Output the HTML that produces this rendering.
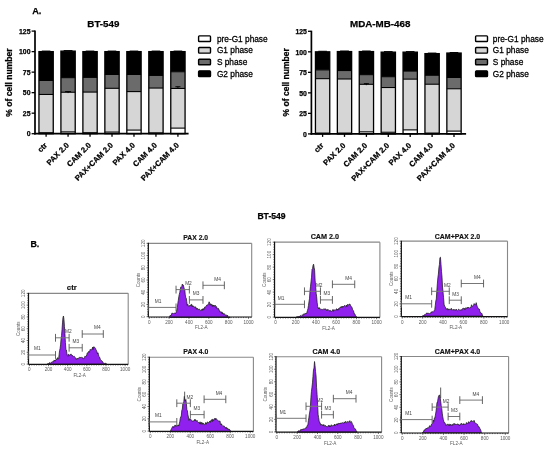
<!DOCTYPE html>
<html><head><meta charset="utf-8"><title>Figure</title>
<style>
html,body{margin:0;padding:0;background:#fff;}
body{width:550px;height:449px;overflow:hidden;font-family:"Liberation Sans", sans-serif;}
svg{display:block;filter:blur(0.3px);}
</style></head><body>
<svg width="550" height="449" viewBox="0 0 550 449" font-family='"Liberation Sans", sans-serif'>
<text x="103.4" y="26.9" font-size="9.8" font-weight="bold" text-anchor="middle" fill="#000" stroke="#000" stroke-width="0.25">BT-549</text>
<rect x="38.95" y="51.62" width="14.3" height="28.81" fill="#000" stroke="none" stroke-width="1"/>
<rect x="38.95" y="80.43" width="14.3" height="14.04" fill="#6b6b6b" stroke="none" stroke-width="1"/>
<rect x="38.95" y="94.47" width="14.3" height="38.25" fill="#d6d6d6" stroke="none" stroke-width="1"/>
<rect x="38.95" y="132.72" width="14.3" height="0.98" fill="#fff" stroke="none" stroke-width="1"/>
<line x1="38.95" y1="80.43" x2="53.25" y2="80.43" stroke="#000" stroke-width="1.1"/>
<line x1="38.95" y1="94.47" x2="53.25" y2="94.47" stroke="#000" stroke-width="1.1"/>
<line x1="38.95" y1="132.72" x2="53.25" y2="132.72" stroke="#000" stroke-width="1.1"/>
<rect x="38.95" y="51.62" width="14.3" height="82.08" fill="none" stroke="#000" stroke-width="1.3"/>
<line x1="41.8" y1="51.07" x2="50.4" y2="51.07" stroke="#000" stroke-width="1"/>
<line x1="46.1" y1="133.7" x2="46.1" y2="136.7" stroke="#000" stroke-width="1.3"/>
<rect x="60.92" y="51.13" width="14.3" height="26.51" fill="#000" stroke="none" stroke-width="1"/>
<rect x="60.92" y="77.64" width="14.3" height="14.61" fill="#6b6b6b" stroke="none" stroke-width="1"/>
<rect x="60.92" y="92.25" width="14.3" height="39.64" fill="#d6d6d6" stroke="none" stroke-width="1"/>
<rect x="60.92" y="131.89" width="14.3" height="1.81" fill="#fff" stroke="none" stroke-width="1"/>
<line x1="60.92" y1="77.64" x2="75.22" y2="77.64" stroke="#000" stroke-width="1.1"/>
<line x1="60.92" y1="92.25" x2="75.22" y2="92.25" stroke="#000" stroke-width="1.1"/>
<line x1="60.92" y1="131.89" x2="75.22" y2="131.89" stroke="#000" stroke-width="1.1"/>
<rect x="60.92" y="51.13" width="14.3" height="82.57" fill="none" stroke="#000" stroke-width="1.3"/>
<line x1="63.67" y1="50.58" x2="72.47" y2="50.58" stroke="#000" stroke-width="1"/>
<line x1="65.07" y1="91.59" x2="71.07" y2="91.59" stroke="#000" stroke-width="1"/>
<line x1="68.07" y1="91.59" x2="68.07" y2="93.09" stroke="#000" stroke-width="0.9"/>
<line x1="68.07" y1="133.7" x2="68.07" y2="136.7" stroke="#000" stroke-width="1.3"/>
<rect x="82.89" y="51.62" width="14.3" height="25.77" fill="#000" stroke="none" stroke-width="1"/>
<rect x="82.89" y="77.39" width="14.3" height="14.69" fill="#6b6b6b" stroke="none" stroke-width="1"/>
<rect x="82.89" y="92.09" width="14.3" height="40.63" fill="#d6d6d6" stroke="none" stroke-width="1"/>
<rect x="82.89" y="132.72" width="14.3" height="0.98" fill="#fff" stroke="none" stroke-width="1"/>
<line x1="82.89" y1="77.39" x2="97.19" y2="77.39" stroke="#000" stroke-width="1.1"/>
<line x1="82.89" y1="92.09" x2="97.19" y2="92.09" stroke="#000" stroke-width="1.1"/>
<line x1="82.89" y1="132.72" x2="97.19" y2="132.72" stroke="#000" stroke-width="1.1"/>
<rect x="82.89" y="51.62" width="14.3" height="82.08" fill="none" stroke="#000" stroke-width="1.3"/>
<line x1="85.74" y1="51.07" x2="94.34" y2="51.07" stroke="#000" stroke-width="1"/>
<line x1="90.04" y1="133.7" x2="90.04" y2="136.7" stroke="#000" stroke-width="1.3"/>
<rect x="104.86" y="51.62" width="14.3" height="22.82" fill="#000" stroke="none" stroke-width="1"/>
<rect x="104.86" y="74.44" width="14.3" height="13.87" fill="#6b6b6b" stroke="none" stroke-width="1"/>
<rect x="104.86" y="88.31" width="14.3" height="43.75" fill="#d6d6d6" stroke="none" stroke-width="1"/>
<rect x="104.86" y="132.06" width="14.3" height="1.64" fill="#fff" stroke="none" stroke-width="1"/>
<line x1="104.86" y1="74.44" x2="119.16" y2="74.44" stroke="#000" stroke-width="1.1"/>
<line x1="104.86" y1="88.31" x2="119.16" y2="88.31" stroke="#000" stroke-width="1.1"/>
<line x1="104.86" y1="132.06" x2="119.16" y2="132.06" stroke="#000" stroke-width="1.1"/>
<rect x="104.86" y="51.62" width="14.3" height="82.08" fill="none" stroke="#000" stroke-width="1.3"/>
<line x1="107.71" y1="51.07" x2="116.31" y2="51.07" stroke="#000" stroke-width="1"/>
<line x1="112.01" y1="133.7" x2="112.01" y2="136.7" stroke="#000" stroke-width="1.3"/>
<rect x="126.83" y="51.62" width="14.3" height="22.82" fill="#000" stroke="none" stroke-width="1"/>
<rect x="126.83" y="74.44" width="14.3" height="17.15" fill="#6b6b6b" stroke="none" stroke-width="1"/>
<rect x="126.83" y="91.59" width="14.3" height="38.5" fill="#d6d6d6" stroke="none" stroke-width="1"/>
<rect x="126.83" y="130.09" width="14.3" height="3.61" fill="#fff" stroke="none" stroke-width="1"/>
<line x1="126.83" y1="74.44" x2="141.13" y2="74.44" stroke="#000" stroke-width="1.1"/>
<line x1="126.83" y1="91.59" x2="141.13" y2="91.59" stroke="#000" stroke-width="1.1"/>
<line x1="126.83" y1="130.09" x2="141.13" y2="130.09" stroke="#000" stroke-width="1.1"/>
<rect x="126.83" y="51.62" width="14.3" height="82.08" fill="none" stroke="#000" stroke-width="1.3"/>
<line x1="129.68" y1="51.07" x2="138.28" y2="51.07" stroke="#000" stroke-width="1"/>
<line x1="133.98" y1="133.7" x2="133.98" y2="136.7" stroke="#000" stroke-width="1.3"/>
<rect x="148.8" y="51.62" width="14.3" height="23.8" fill="#000" stroke="none" stroke-width="1"/>
<rect x="148.8" y="75.42" width="14.3" height="12.64" fill="#6b6b6b" stroke="none" stroke-width="1"/>
<rect x="148.8" y="88.06" width="14.3" height="44.82" fill="#d6d6d6" stroke="none" stroke-width="1"/>
<rect x="148.8" y="132.88" width="14.3" height="0.82" fill="#fff" stroke="none" stroke-width="1"/>
<line x1="148.8" y1="75.42" x2="163.1" y2="75.42" stroke="#000" stroke-width="1.1"/>
<line x1="148.8" y1="88.06" x2="163.1" y2="88.06" stroke="#000" stroke-width="1.1"/>
<line x1="148.8" y1="132.88" x2="163.1" y2="132.88" stroke="#000" stroke-width="1.1"/>
<rect x="148.8" y="51.62" width="14.3" height="82.08" fill="none" stroke="#000" stroke-width="1.3"/>
<line x1="151.65" y1="51.07" x2="160.25" y2="51.07" stroke="#000" stroke-width="1"/>
<line x1="155.95" y1="133.7" x2="155.95" y2="136.7" stroke="#000" stroke-width="1.3"/>
<rect x="170.77" y="51.62" width="14.3" height="20.11" fill="#000" stroke="none" stroke-width="1"/>
<rect x="170.77" y="71.73" width="14.3" height="16.74" fill="#6b6b6b" stroke="none" stroke-width="1"/>
<rect x="170.77" y="88.47" width="14.3" height="39.64" fill="#d6d6d6" stroke="none" stroke-width="1"/>
<rect x="170.77" y="128.12" width="14.3" height="5.58" fill="#fff" stroke="none" stroke-width="1"/>
<line x1="170.77" y1="71.73" x2="185.07" y2="71.73" stroke="#000" stroke-width="1.1"/>
<line x1="170.77" y1="88.47" x2="185.07" y2="88.47" stroke="#000" stroke-width="1.1"/>
<line x1="170.77" y1="128.12" x2="185.07" y2="128.12" stroke="#000" stroke-width="1.1"/>
<rect x="170.77" y="51.62" width="14.3" height="82.08" fill="none" stroke="#000" stroke-width="1.3"/>
<line x1="173.62" y1="51.07" x2="182.22" y2="51.07" stroke="#000" stroke-width="1"/>
<line x1="175.42" y1="86.75" x2="180.42" y2="86.75" stroke="#000" stroke-width="1"/>
<line x1="177.92" y1="86.75" x2="177.92" y2="88.25" stroke="#000" stroke-width="0.9"/>
<line x1="177.92" y1="133.7" x2="177.92" y2="136.7" stroke="#000" stroke-width="1.3"/>
<line x1="35" y1="30.5" x2="35" y2="134.5" stroke="#000" stroke-width="1.7"/>
<line x1="34.2" y1="133.7" x2="188.6" y2="133.7" stroke="#000" stroke-width="1.7"/>
<line x1="31.6" y1="133.7" x2="35" y2="133.7" stroke="#000" stroke-width="1.3"/>
<text x="30.5" y="136.4" font-size="6.9" font-weight="bold" text-anchor="end" fill="#000" stroke="#000" stroke-width="0.25">0</text>
<line x1="31.6" y1="113.18" x2="35" y2="113.18" stroke="#000" stroke-width="1.3"/>
<text x="30.5" y="115.88" font-size="6.9" font-weight="bold" text-anchor="end" fill="#000" stroke="#000" stroke-width="0.25">25</text>
<line x1="31.6" y1="92.66" x2="35" y2="92.66" stroke="#000" stroke-width="1.3"/>
<text x="30.5" y="95.36" font-size="6.9" font-weight="bold" text-anchor="end" fill="#000" stroke="#000" stroke-width="0.25">50</text>
<line x1="31.6" y1="72.14" x2="35" y2="72.14" stroke="#000" stroke-width="1.3"/>
<text x="30.5" y="74.84" font-size="6.9" font-weight="bold" text-anchor="end" fill="#000" stroke="#000" stroke-width="0.25">75</text>
<line x1="31.6" y1="51.62" x2="35" y2="51.62" stroke="#000" stroke-width="1.3"/>
<text x="30.5" y="54.32" font-size="6.9" font-weight="bold" text-anchor="end" fill="#000" stroke="#000" stroke-width="0.25">100</text>
<line x1="31.6" y1="31.1" x2="35" y2="31.1" stroke="#000" stroke-width="1.3"/>
<text x="30.5" y="33.8" font-size="6.9" font-weight="bold" text-anchor="end" fill="#000" stroke="#000" stroke-width="0.25">125</text>
<text x="0" y="0" font-size="8.55" font-weight="bold" text-anchor="middle" fill="#000" transform="translate(12.1,82.6) rotate(-90)" stroke="#000" stroke-width="0.25">% of cell number</text>
<text x="0" y="0" font-size="7.7" font-weight="bold" text-anchor="end" fill="#000" transform="translate(47.6,145.8) rotate(-45)" stroke="#000" stroke-width="0.25">ctr</text>
<text x="0" y="0" font-size="7.7" font-weight="bold" text-anchor="end" fill="#000" transform="translate(69.57,145.8) rotate(-45)" stroke="#000" stroke-width="0.25">PAX 2.0</text>
<text x="0" y="0" font-size="7.7" font-weight="bold" text-anchor="end" fill="#000" transform="translate(91.54,145.8) rotate(-45)" stroke="#000" stroke-width="0.25">CAM 2.0</text>
<text x="0" y="0" font-size="7.7" font-weight="bold" text-anchor="end" fill="#000" transform="translate(113.51,145.8) rotate(-45)" stroke="#000" stroke-width="0.25">PAX+CAM 2.0</text>
<text x="0" y="0" font-size="7.7" font-weight="bold" text-anchor="end" fill="#000" transform="translate(135.48,145.8) rotate(-45)" stroke="#000" stroke-width="0.25">PAX 4.0</text>
<text x="0" y="0" font-size="7.7" font-weight="bold" text-anchor="end" fill="#000" transform="translate(157.45,145.8) rotate(-45)" stroke="#000" stroke-width="0.25">CAM 4.0</text>
<text x="0" y="0" font-size="7.7" font-weight="bold" text-anchor="end" fill="#000" transform="translate(179.42,145.8) rotate(-45)" stroke="#000" stroke-width="0.25">PAX+CAM 4.0</text>
<rect x="198.6" y="35.9" width="11.9" height="5.6" fill="#fff" stroke="#000" stroke-width="1.4" rx="0.8"/>
<text x="216.9" y="41.8" font-size="8.3" font-weight="normal" text-anchor="start" fill="#000" stroke="#000" stroke-width="0.28">pre-G1 phase</text>
<rect x="198.6" y="47.55" width="11.9" height="5.6" fill="#d6d6d6" stroke="#000" stroke-width="1.4" rx="0.8"/>
<text x="216.9" y="53.45" font-size="8.3" font-weight="normal" text-anchor="start" fill="#000" stroke="#000" stroke-width="0.28">G1 phase</text>
<rect x="198.6" y="59.2" width="11.9" height="5.6" fill="#6b6b6b" stroke="#000" stroke-width="1.4" rx="0.8"/>
<text x="216.9" y="65.1" font-size="8.3" font-weight="normal" text-anchor="start" fill="#000" stroke="#000" stroke-width="0.28">S phase</text>
<rect x="198.6" y="70.85" width="11.9" height="5.6" fill="#000" stroke="#000" stroke-width="1.4" rx="0.8"/>
<text x="216.9" y="76.75" font-size="8.3" font-weight="normal" text-anchor="start" fill="#000" stroke="#000" stroke-width="0.28">G2 phase</text>
<text x="380.2" y="26.7" font-size="9.8" font-weight="bold" text-anchor="middle" fill="#000" stroke="#000" stroke-width="0.25">MDA-MB-468</text>
<rect x="315.45" y="51.82" width="14.3" height="18.06" fill="#000" stroke="none" stroke-width="1"/>
<rect x="315.45" y="69.88" width="14.3" height="8.78" fill="#6b6b6b" stroke="none" stroke-width="1"/>
<rect x="315.45" y="78.66" width="14.3" height="54.42" fill="#d6d6d6" stroke="none" stroke-width="1"/>
<rect x="315.45" y="133.08" width="14.3" height="0.82" fill="#fff" stroke="none" stroke-width="1"/>
<line x1="315.45" y1="69.88" x2="329.75" y2="69.88" stroke="#000" stroke-width="1.1"/>
<line x1="315.45" y1="78.66" x2="329.75" y2="78.66" stroke="#000" stroke-width="1.1"/>
<line x1="315.45" y1="133.08" x2="329.75" y2="133.08" stroke="#000" stroke-width="1.1"/>
<rect x="315.45" y="51.82" width="14.3" height="82.08" fill="none" stroke="#000" stroke-width="1.3"/>
<line x1="318.3" y1="51.27" x2="326.9" y2="51.27" stroke="#000" stroke-width="1"/>
<line x1="322.6" y1="133.9" x2="322.6" y2="136.9" stroke="#000" stroke-width="1.3"/>
<rect x="337.35" y="51.57" width="14.3" height="18.96" fill="#000" stroke="none" stroke-width="1"/>
<rect x="337.35" y="70.53" width="14.3" height="8.45" fill="#6b6b6b" stroke="none" stroke-width="1"/>
<rect x="337.35" y="78.99" width="14.3" height="54.09" fill="#d6d6d6" stroke="none" stroke-width="1"/>
<rect x="337.35" y="133.08" width="14.3" height="0.82" fill="#fff" stroke="none" stroke-width="1"/>
<line x1="337.35" y1="70.53" x2="351.65" y2="70.53" stroke="#000" stroke-width="1.1"/>
<line x1="337.35" y1="78.99" x2="351.65" y2="78.99" stroke="#000" stroke-width="1.1"/>
<line x1="337.35" y1="133.08" x2="351.65" y2="133.08" stroke="#000" stroke-width="1.1"/>
<rect x="337.35" y="51.57" width="14.3" height="82.33" fill="none" stroke="#000" stroke-width="1.3"/>
<line x1="340.1" y1="51.02" x2="348.9" y2="51.02" stroke="#000" stroke-width="1"/>
<line x1="344.5" y1="133.9" x2="344.5" y2="136.9" stroke="#000" stroke-width="1.3"/>
<rect x="359.25" y="51.57" width="14.3" height="23.06" fill="#000" stroke="none" stroke-width="1"/>
<rect x="359.25" y="74.64" width="14.3" height="9.69" fill="#6b6b6b" stroke="none" stroke-width="1"/>
<rect x="359.25" y="84.32" width="14.3" height="47.52" fill="#d6d6d6" stroke="none" stroke-width="1"/>
<rect x="359.25" y="131.85" width="14.3" height="2.05" fill="#fff" stroke="none" stroke-width="1"/>
<line x1="359.25" y1="74.64" x2="373.55" y2="74.64" stroke="#000" stroke-width="1.1"/>
<line x1="359.25" y1="84.32" x2="373.55" y2="84.32" stroke="#000" stroke-width="1.1"/>
<line x1="359.25" y1="131.85" x2="373.55" y2="131.85" stroke="#000" stroke-width="1.1"/>
<rect x="359.25" y="51.57" width="14.3" height="82.33" fill="none" stroke="#000" stroke-width="1.3"/>
<line x1="362.1" y1="51.02" x2="370.7" y2="51.02" stroke="#000" stroke-width="1"/>
<line x1="363.9" y1="83.67" x2="368.9" y2="83.67" stroke="#000" stroke-width="1"/>
<line x1="366.4" y1="83.67" x2="366.4" y2="85.17" stroke="#000" stroke-width="0.9"/>
<line x1="366.4" y1="133.9" x2="366.4" y2="136.9" stroke="#000" stroke-width="1.3"/>
<rect x="381.15" y="52.15" width="14.3" height="24.54" fill="#000" stroke="none" stroke-width="1"/>
<rect x="381.15" y="76.69" width="14.3" height="10.83" fill="#6b6b6b" stroke="none" stroke-width="1"/>
<rect x="381.15" y="87.52" width="14.3" height="44.73" fill="#d6d6d6" stroke="none" stroke-width="1"/>
<rect x="381.15" y="132.26" width="14.3" height="1.64" fill="#fff" stroke="none" stroke-width="1"/>
<line x1="381.15" y1="76.69" x2="395.45" y2="76.69" stroke="#000" stroke-width="1.1"/>
<line x1="381.15" y1="87.52" x2="395.45" y2="87.52" stroke="#000" stroke-width="1.1"/>
<line x1="381.15" y1="132.26" x2="395.45" y2="132.26" stroke="#000" stroke-width="1.1"/>
<rect x="381.15" y="52.15" width="14.3" height="81.75" fill="none" stroke="#000" stroke-width="1.3"/>
<line x1="384" y1="51.6" x2="392.6" y2="51.6" stroke="#000" stroke-width="1"/>
<line x1="388.3" y1="133.9" x2="388.3" y2="136.9" stroke="#000" stroke-width="1.3"/>
<rect x="403.05" y="52.15" width="14.3" height="18.96" fill="#000" stroke="none" stroke-width="1"/>
<rect x="403.05" y="71.11" width="14.3" height="8.04" fill="#6b6b6b" stroke="none" stroke-width="1"/>
<rect x="403.05" y="79.15" width="14.3" height="50.73" fill="#d6d6d6" stroke="none" stroke-width="1"/>
<rect x="403.05" y="129.88" width="14.3" height="4.02" fill="#fff" stroke="none" stroke-width="1"/>
<line x1="403.05" y1="71.11" x2="417.35" y2="71.11" stroke="#000" stroke-width="1.1"/>
<line x1="403.05" y1="79.15" x2="417.35" y2="79.15" stroke="#000" stroke-width="1.1"/>
<line x1="403.05" y1="129.88" x2="417.35" y2="129.88" stroke="#000" stroke-width="1.1"/>
<rect x="403.05" y="52.15" width="14.3" height="81.75" fill="none" stroke="#000" stroke-width="1.3"/>
<line x1="405.9" y1="51.6" x2="414.5" y2="51.6" stroke="#000" stroke-width="1"/>
<line x1="410.2" y1="133.9" x2="410.2" y2="136.9" stroke="#000" stroke-width="1.3"/>
<rect x="424.95" y="53.63" width="14.3" height="21.67" fill="#000" stroke="none" stroke-width="1"/>
<rect x="424.95" y="75.29" width="14.3" height="8.95" fill="#6b6b6b" stroke="none" stroke-width="1"/>
<rect x="424.95" y="84.24" width="14.3" height="48.84" fill="#d6d6d6" stroke="none" stroke-width="1"/>
<rect x="424.95" y="133.08" width="14.3" height="0.82" fill="#fff" stroke="none" stroke-width="1"/>
<line x1="424.95" y1="75.29" x2="439.25" y2="75.29" stroke="#000" stroke-width="1.1"/>
<line x1="424.95" y1="84.24" x2="439.25" y2="84.24" stroke="#000" stroke-width="1.1"/>
<line x1="424.95" y1="133.08" x2="439.25" y2="133.08" stroke="#000" stroke-width="1.1"/>
<rect x="424.95" y="53.63" width="14.3" height="80.27" fill="none" stroke="#000" stroke-width="1.3"/>
<line x1="427.8" y1="53.08" x2="436.4" y2="53.08" stroke="#000" stroke-width="1"/>
<line x1="432.1" y1="133.9" x2="432.1" y2="136.9" stroke="#000" stroke-width="1.3"/>
<rect x="446.85" y="53.05" width="14.3" height="24.38" fill="#000" stroke="none" stroke-width="1"/>
<rect x="446.85" y="77.43" width="14.3" height="11.33" fill="#6b6b6b" stroke="none" stroke-width="1"/>
<rect x="446.85" y="88.76" width="14.3" height="42.35" fill="#d6d6d6" stroke="none" stroke-width="1"/>
<rect x="446.85" y="131.11" width="14.3" height="2.79" fill="#fff" stroke="none" stroke-width="1"/>
<line x1="446.85" y1="77.43" x2="461.15" y2="77.43" stroke="#000" stroke-width="1.1"/>
<line x1="446.85" y1="88.76" x2="461.15" y2="88.76" stroke="#000" stroke-width="1.1"/>
<line x1="446.85" y1="131.11" x2="461.15" y2="131.11" stroke="#000" stroke-width="1.1"/>
<rect x="446.85" y="53.05" width="14.3" height="80.85" fill="none" stroke="#000" stroke-width="1.3"/>
<line x1="449.7" y1="52.5" x2="458.3" y2="52.5" stroke="#000" stroke-width="1"/>
<line x1="454" y1="133.9" x2="454" y2="136.9" stroke="#000" stroke-width="1.3"/>
<line x1="311.4" y1="30.7" x2="311.4" y2="134.7" stroke="#000" stroke-width="1.7"/>
<line x1="310.6" y1="133.9" x2="466.1" y2="133.9" stroke="#000" stroke-width="1.7"/>
<line x1="308" y1="133.9" x2="311.4" y2="133.9" stroke="#000" stroke-width="1.3"/>
<text x="306.9" y="136.6" font-size="6.9" font-weight="bold" text-anchor="end" fill="#000" stroke="#000" stroke-width="0.25">0</text>
<line x1="308" y1="113.38" x2="311.4" y2="113.38" stroke="#000" stroke-width="1.3"/>
<text x="306.9" y="116.08" font-size="6.9" font-weight="bold" text-anchor="end" fill="#000" stroke="#000" stroke-width="0.25">25</text>
<line x1="308" y1="92.86" x2="311.4" y2="92.86" stroke="#000" stroke-width="1.3"/>
<text x="306.9" y="95.56" font-size="6.9" font-weight="bold" text-anchor="end" fill="#000" stroke="#000" stroke-width="0.25">50</text>
<line x1="308" y1="72.34" x2="311.4" y2="72.34" stroke="#000" stroke-width="1.3"/>
<text x="306.9" y="75.04" font-size="6.9" font-weight="bold" text-anchor="end" fill="#000" stroke="#000" stroke-width="0.25">75</text>
<line x1="308" y1="51.82" x2="311.4" y2="51.82" stroke="#000" stroke-width="1.3"/>
<text x="306.9" y="54.52" font-size="6.9" font-weight="bold" text-anchor="end" fill="#000" stroke="#000" stroke-width="0.25">100</text>
<line x1="308" y1="31.3" x2="311.4" y2="31.3" stroke="#000" stroke-width="1.3"/>
<text x="306.9" y="34" font-size="6.9" font-weight="bold" text-anchor="end" fill="#000" stroke="#000" stroke-width="0.25">125</text>
<text x="0" y="0" font-size="8.55" font-weight="bold" text-anchor="middle" fill="#000" transform="translate(289.4,82.3) rotate(-90)" stroke="#000" stroke-width="0.25">% of cell number</text>
<text x="0" y="0" font-size="7.7" font-weight="bold" text-anchor="end" fill="#000" transform="translate(324.1,146) rotate(-45)" stroke="#000" stroke-width="0.25">ctr</text>
<text x="0" y="0" font-size="7.7" font-weight="bold" text-anchor="end" fill="#000" transform="translate(346,146) rotate(-45)" stroke="#000" stroke-width="0.25">PAX 2.0</text>
<text x="0" y="0" font-size="7.7" font-weight="bold" text-anchor="end" fill="#000" transform="translate(367.9,146) rotate(-45)" stroke="#000" stroke-width="0.25">CAM 2.0</text>
<text x="0" y="0" font-size="7.7" font-weight="bold" text-anchor="end" fill="#000" transform="translate(389.8,146) rotate(-45)" stroke="#000" stroke-width="0.25">PAX+CAM 2.0</text>
<text x="0" y="0" font-size="7.7" font-weight="bold" text-anchor="end" fill="#000" transform="translate(411.7,146) rotate(-45)" stroke="#000" stroke-width="0.25">PAX 4.0</text>
<text x="0" y="0" font-size="7.7" font-weight="bold" text-anchor="end" fill="#000" transform="translate(433.6,146) rotate(-45)" stroke="#000" stroke-width="0.25">CAM 4.0</text>
<text x="0" y="0" font-size="7.7" font-weight="bold" text-anchor="end" fill="#000" transform="translate(455.5,146) rotate(-45)" stroke="#000" stroke-width="0.25">PAX+CAM 4.0</text>
<rect x="475.6" y="35.9" width="11.9" height="5.6" fill="#fff" stroke="#000" stroke-width="1.4" rx="0.8"/>
<text x="492.8" y="41.8" font-size="8.3" font-weight="normal" text-anchor="start" fill="#000" stroke="#000" stroke-width="0.28">pre-G1 phase</text>
<rect x="475.6" y="47.55" width="11.9" height="5.6" fill="#d6d6d6" stroke="#000" stroke-width="1.4" rx="0.8"/>
<text x="492.8" y="53.45" font-size="8.3" font-weight="normal" text-anchor="start" fill="#000" stroke="#000" stroke-width="0.28">G1 phase</text>
<rect x="475.6" y="59.2" width="11.9" height="5.6" fill="#6b6b6b" stroke="#000" stroke-width="1.4" rx="0.8"/>
<text x="492.8" y="65.1" font-size="8.3" font-weight="normal" text-anchor="start" fill="#000" stroke="#000" stroke-width="0.28">S phase</text>
<rect x="475.6" y="70.85" width="11.9" height="5.6" fill="#000" stroke="#000" stroke-width="1.4" rx="0.8"/>
<text x="492.8" y="76.75" font-size="8.3" font-weight="normal" text-anchor="start" fill="#000" stroke="#000" stroke-width="0.28">G2 phase</text>
<text x="32.2" y="14" font-size="9.2" font-weight="bold" text-anchor="start" fill="#000" stroke="#000" stroke-width="0.25">A.</text>
<text x="30.4" y="247.2" font-size="8.9" font-weight="bold" text-anchor="start" fill="#000" stroke="#000" stroke-width="0.25">B.</text>
<text x="271.5" y="218.5" font-size="8.6" font-weight="bold" text-anchor="middle" fill="#000" stroke="#000" stroke-width="0.25">BT-549</text>
<text x="71.85" y="289.9" font-size="6.7" font-weight="bold" text-anchor="middle" fill="#111" textLength="10" lengthAdjust="spacingAndGlyphs" stroke="#111" stroke-width="0.15">ctr</text>
<path d="M46.96,364.2 L46.96,364.2 L47.44,364.01 L47.93,363.83 L48.41,363.64 L48.9,364.01 L49.39,362.74 L49.87,362.68 L50.36,363.28 L50.84,362.72 L51.33,362.61 L51.81,362.06 L52.3,361.54 L52.79,362.4 L53.27,362.24 L53.76,360.56 L54.24,360.97 L54.73,360.09 L55.22,361.18 L55.7,360.07 L56.19,359.18 L56.67,359.75 L57.16,357.98 L57.64,357.68 L58.13,359.07 L58.62,358.72 L59.1,354.89 L59.59,350.47 L60.07,348.66 L60.56,344.88 L61.05,339.09 L61.53,335.63 L62.02,329.71 L62.5,322.87 L62.99,317.38 L63.47,315.99 L63.96,319.47 L64.45,326.45 L64.93,333.41 L65.42,342.59 L65.9,349.54 L66.39,349.94 L66.88,353.51 L67.36,355.52 L67.85,356.38 L68.33,354.34 L68.82,354.45 L69.3,355.99 L69.79,355.31 L70.28,354.2 L70.76,354.42 L71.25,354.18 L71.73,355.65 L72.22,355 L72.71,355.65 L73.19,356.74 L73.68,356.43 L74.16,356.17 L74.65,356.64 L75.13,357.73 L75.62,357.93 L76.11,359.41 L76.59,359.36 L77.08,358.08 L77.56,358.65 L78.05,358.95 L78.54,358.01 L79.02,357.51 L79.51,357.38 L79.99,357.81 L80.48,357.5 L80.97,357.42 L81.45,356.93 L81.94,357.55 L82.42,357.89 L82.91,357.76 L83.39,358.78 L83.88,358.83 L84.37,357.54 L84.85,356.29 L85.34,356.46 L85.82,356.25 L86.31,356.12 L86.8,354.71 L87.28,352.89 L87.77,352.77 L88.25,352.76 L88.74,351.34 L89.22,352.41 L89.71,351.07 L90.2,349.26 L90.68,349.72 L91.17,349.69 L91.65,349.87 L92.14,348.68 L92.63,347.08 L93.11,349.58 L93.6,346.84 L94.08,346.88 L94.57,347.19 L95.05,348.14 L95.54,348.45 L96.03,349.79 L96.51,350.56 L97,351.92 L97.48,353.86 L97.97,352.79 L98.46,354.53 L98.94,356.49 L99.43,356.91 L99.91,358.07 L100.4,359.43 L100.88,360.42 L101.37,360.53 L101.86,360.85 L102.34,361.34 L102.83,362.06 L103.31,363.21 L103.8,363.34 L104.29,363.65 L104.77,363.22 L105.26,362.99 L105.74,363.72 L106.23,363.9 L106.71,364.09 L107.01,364.2 Z" fill="#8f20ee" stroke="#1a1a1a" stroke-width="0.75" stroke-linejoin="round"/>
<line x1="28.5" y1="293.35" x2="128.2" y2="293.35" stroke="#888" stroke-width="1.1"/>
<line x1="128.2" y1="293.35" x2="128.2" y2="364.4" stroke="#888" stroke-width="1.1"/>
<line x1="28.5" y1="364.4" x2="128.2" y2="364.4" stroke="#111" stroke-width="1.2"/>
<line x1="28.5" y1="292.85" x2="28.5" y2="364.4" stroke="#111" stroke-width="1.2"/>
<path d="M29.4,364.4 v1.8 M31.79,364.4 v1.1 M34.19,364.4 v1.1 M36.58,364.4 v1.1 M38.97,364.4 v1.1 M41.37,364.4 v1.1 M43.76,364.4 v1.1 M46.15,364.4 v1.1 M48.55,364.4 v1.8 M50.94,364.4 v1.1 M53.33,364.4 v1.1 M55.73,364.4 v1.1 M58.12,364.4 v1.1 M60.51,364.4 v1.1 M62.91,364.4 v1.1 M65.3,364.4 v1.1 M67.69,364.4 v1.8 M70.09,364.4 v1.1 M72.48,364.4 v1.1 M74.87,364.4 v1.1 M77.27,364.4 v1.1 M79.66,364.4 v1.1 M82.06,364.4 v1.1 M84.45,364.4 v1.1 M86.84,364.4 v1.8 M89.24,364.4 v1.1 M91.63,364.4 v1.1 M94.02,364.4 v1.1 M96.42,364.4 v1.1 M98.81,364.4 v1.1 M101.2,364.4 v1.1 M103.6,364.4 v1.1 M105.99,364.4 v1.8 M108.38,364.4 v1.1 M110.78,364.4 v1.1 M113.17,364.4 v1.1 M115.56,364.4 v1.1 M117.96,364.4 v1.1 M120.35,364.4 v1.1 M122.74,364.4 v1.1 M125.14,364.4 v1.8 M127.53,364.4 v1.1 M28.5,364.1 h-1.8 M28.5,361.74 h-1.1 M28.5,359.38 h-1.1 M28.5,357.02 h-1.1 M28.5,354.67 h-1.1 M28.5,352.31 h-1.8 M28.5,349.95 h-1.1 M28.5,347.59 h-1.1 M28.5,345.23 h-1.1 M28.5,342.88 h-1.1 M28.5,340.52 h-1.8 M28.5,338.16 h-1.1 M28.5,335.8 h-1.1 M28.5,333.44 h-1.1 M28.5,331.08 h-1.1 M28.5,328.72 h-1.8 M28.5,326.37 h-1.1 M28.5,324.01 h-1.1 M28.5,321.65 h-1.1 M28.5,319.29 h-1.1 M28.5,316.93 h-1.8 M28.5,314.57 h-1.1 M28.5,312.22 h-1.1 M28.5,309.86 h-1.1 M28.5,307.5 h-1.1 M28.5,305.14 h-1.8 M28.5,302.78 h-1.1 M28.5,300.43 h-1.1 M28.5,298.07 h-1.1 M28.5,295.71 h-1.1 M28.5,293.35 h-1.8" stroke="#222" stroke-width="0.7" fill="none"/>
<text x="29.4" y="371.3" font-size="4.6" font-weight="normal" text-anchor="middle" fill="#5a5a5a">0</text>
<text x="48.55" y="371.3" font-size="4.6" font-weight="normal" text-anchor="middle" fill="#5a5a5a">200</text>
<text x="67.69" y="371.3" font-size="4.6" font-weight="normal" text-anchor="middle" fill="#5a5a5a">400</text>
<text x="86.84" y="371.3" font-size="4.6" font-weight="normal" text-anchor="middle" fill="#5a5a5a">600</text>
<text x="105.99" y="371.3" font-size="4.6" font-weight="normal" text-anchor="middle" fill="#5a5a5a">800</text>
<text x="125.14" y="371.3" font-size="4.6" font-weight="normal" text-anchor="middle" fill="#5a5a5a">1000</text>
<text x="79.66" y="376.8" font-size="4.6" font-weight="normal" text-anchor="middle" fill="#5a5a5a">FL2-A</text>
<text x="0" y="0" font-size="4.6" font-weight="normal" text-anchor="middle" fill="#5a5a5a" transform="translate(25.3,364.1) rotate(-90)">0</text>
<text x="0" y="0" font-size="4.6" font-weight="normal" text-anchor="middle" fill="#5a5a5a" transform="translate(25.3,352.31) rotate(-90)">20</text>
<text x="0" y="0" font-size="4.6" font-weight="normal" text-anchor="middle" fill="#5a5a5a" transform="translate(25.3,340.52) rotate(-90)">40</text>
<text x="0" y="0" font-size="4.6" font-weight="normal" text-anchor="middle" fill="#5a5a5a" transform="translate(25.3,328.72) rotate(-90)">60</text>
<text x="0" y="0" font-size="4.6" font-weight="normal" text-anchor="middle" fill="#5a5a5a" transform="translate(25.3,316.93) rotate(-90)">80</text>
<text x="0" y="0" font-size="4.6" font-weight="normal" text-anchor="middle" fill="#5a5a5a" transform="translate(25.3,305.14) rotate(-90)">100</text>
<text x="0" y="0" font-size="4.6" font-weight="normal" text-anchor="middle" fill="#5a5a5a" transform="translate(25.3,293.35) rotate(-90)">120</text>
<text x="0" y="0" font-size="4.6" font-weight="normal" text-anchor="middle" fill="#5a5a5a" transform="translate(19.7,328.72) rotate(-90)">Counts</text>
<line x1="28.3" y1="355" x2="55.51" y2="355" stroke="#777" stroke-width="1"/>
<line x1="28.3" y1="351.1" x2="28.3" y2="358.9" stroke="#555" stroke-width="0.9"/>
<line x1="55.51" y1="351.1" x2="55.51" y2="358.9" stroke="#555" stroke-width="0.9"/>
<text x="37.34" y="350.4" font-size="4.8" font-weight="normal" text-anchor="middle" fill="#444">M1</text>
<line x1="55.51" y1="337.8" x2="69.11" y2="337.8" stroke="#777" stroke-width="1"/>
<line x1="55.51" y1="333.9" x2="55.51" y2="341.7" stroke="#555" stroke-width="0.9"/>
<line x1="69.11" y1="333.9" x2="69.11" y2="341.7" stroke="#555" stroke-width="0.9"/>
<text x="68.43" y="333.2" font-size="4.8" font-weight="normal" text-anchor="middle" fill="#444">M2</text>
<line x1="69.11" y1="347.8" x2="82.23" y2="347.8" stroke="#777" stroke-width="1"/>
<line x1="69.11" y1="343.9" x2="69.11" y2="351.7" stroke="#555" stroke-width="0.9"/>
<line x1="82.23" y1="343.9" x2="82.23" y2="351.7" stroke="#555" stroke-width="0.9"/>
<text x="75.82" y="343.2" font-size="4.8" font-weight="normal" text-anchor="middle" fill="#444">M3</text>
<line x1="82.23" y1="334" x2="103.31" y2="334" stroke="#777" stroke-width="1"/>
<line x1="82.23" y1="330.1" x2="82.23" y2="337.9" stroke="#555" stroke-width="0.9"/>
<line x1="103.31" y1="330.1" x2="103.31" y2="337.9" stroke="#555" stroke-width="0.9"/>
<text x="97.29" y="329.4" font-size="4.8" font-weight="normal" text-anchor="middle" fill="#444">M4</text>
<text x="195.75" y="239.8" font-size="6.7" font-weight="bold" text-anchor="middle" fill="#111" textLength="24.8" lengthAdjust="spacingAndGlyphs" stroke="#111" stroke-width="0.15">PAX 2.0</text>
<path d="M169.38,317.5 L169.38,317.5 L169.87,315.98 L170.37,315.15 L170.87,315.85 L171.37,315.02 L171.86,313.14 L172.36,313.24 L172.86,313.29 L173.35,313.89 L173.85,313.25 L174.35,313.17 L174.85,313.14 L175.34,313.87 L175.84,312.84 L176.34,311.77 L176.83,309.9 L177.33,307.46 L177.83,303.26 L178.32,300.25 L178.82,296.67 L179.32,294.29 L179.82,292.24 L180.31,289.25 L180.81,286.94 L181.31,287.16 L181.8,286.48 L182.3,284.08 L182.8,285.47 L183.3,285.12 L183.79,287.11 L184.29,288.8 L184.79,289.76 L185.28,294.91 L185.78,297.52 L186.28,298.26 L186.78,301.67 L187.27,305.4 L187.77,304.28 L188.27,305.39 L188.76,306.39 L189.26,305.62 L189.76,305.66 L190.25,305.26 L190.75,306.09 L191.25,304.2 L191.75,304.5 L192.24,306.87 L192.74,305.55 L193.24,305.9 L193.73,306.8 L194.23,306.86 L194.73,307.33 L195.23,306.66 L195.72,308.1 L196.22,307.71 L196.72,309.25 L197.21,308.42 L197.71,308.61 L198.21,309.71 L198.7,309.57 L199.2,308.87 L199.7,309.42 L200.2,310.05 L200.69,310.66 L201.19,310.34 L201.69,309.4 L202.18,310.51 L202.68,308.73 L203.18,310.09 L203.68,308.52 L204.17,309.26 L204.67,307.06 L205.17,307.01 L205.66,306.86 L206.16,306.17 L206.66,305.17 L207.15,304.77 L207.65,305 L208.15,304.77 L208.65,303.36 L209.14,301.8 L209.64,303.23 L210.14,305.3 L210.63,303.73 L211.13,304.52 L211.63,304.35 L212.13,306.27 L212.62,304.78 L213.12,306.63 L213.62,305.03 L214.11,306.05 L214.61,306.27 L215.11,305.03 L215.61,307.52 L216.1,306.93 L216.6,306.59 L217.1,308.58 L217.59,309.13 L218.09,308.06 L218.59,309.64 L219.08,309.49 L219.58,311.51 L220.08,311.3 L220.58,312.21 L221.07,311.69 L221.57,313.38 L222.07,311.94 L222.56,314.02 L223.06,312.95 L223.56,314.56 L224.06,314.39 L224.55,313.65 L225.05,315.11 L225.55,315.33 L226.04,314.73 L226.54,315.55 L227.04,316.41 L227.53,315.13 L228.03,316.79 L228.53,317.25 L229.03,317.05 L229.52,317.09 L230.02,317.38 L230.22,317.5 Z" fill="#8f20ee" stroke="#1a1a1a" stroke-width="0.75" stroke-linejoin="round"/>
<line x1="148.35" y1="243.35" x2="251.7" y2="243.35" stroke="#888" stroke-width="1.1"/>
<line x1="251.7" y1="243.35" x2="251.7" y2="317" stroke="#888" stroke-width="1.1"/>
<line x1="148.35" y1="317" x2="251.7" y2="317" stroke="#111" stroke-width="1.2"/>
<line x1="148.35" y1="242.85" x2="148.35" y2="317" stroke="#111" stroke-width="1.2"/>
<path d="M149.25,317 v1.8 M151.73,317 v1.1 M154.21,317 v1.1 M156.7,317 v1.1 M159.18,317 v1.1 M161.66,317 v1.1 M164.14,317 v1.1 M166.62,317 v1.1 M169.1,317 v1.8 M171.59,317 v1.1 M174.07,317 v1.1 M176.55,317 v1.1 M179.03,317 v1.1 M181.51,317 v1.1 M184,317 v1.1 M186.48,317 v1.1 M188.96,317 v1.8 M191.44,317 v1.1 M193.92,317 v1.1 M196.4,317 v1.1 M198.89,317 v1.1 M201.37,317 v1.1 M203.85,317 v1.1 M206.33,317 v1.1 M208.81,317 v1.8 M211.3,317 v1.1 M213.78,317 v1.1 M216.26,317 v1.1 M218.74,317 v1.1 M221.22,317 v1.1 M223.7,317 v1.1 M226.19,317 v1.1 M228.67,317 v1.8 M231.15,317 v1.1 M233.63,317 v1.1 M236.11,317 v1.1 M238.6,317 v1.1 M241.08,317 v1.1 M243.56,317 v1.1 M246.04,317 v1.1 M248.52,317 v1.8 M251.01,317 v1.1 M148.35,316.7 h-1.8 M148.35,314.25 h-1.1 M148.35,311.81 h-1.1 M148.35,309.37 h-1.1 M148.35,306.92 h-1.1 M148.35,304.47 h-1.8 M148.35,302.03 h-1.1 M148.35,299.58 h-1.1 M148.35,297.14 h-1.1 M148.35,294.69 h-1.1 M148.35,292.25 h-1.8 M148.35,289.81 h-1.1 M148.35,287.36 h-1.1 M148.35,284.91 h-1.1 M148.35,282.47 h-1.1 M148.35,280.02 h-1.8 M148.35,277.58 h-1.1 M148.35,275.13 h-1.1 M148.35,272.69 h-1.1 M148.35,270.25 h-1.1 M148.35,267.8 h-1.8 M148.35,265.35 h-1.1 M148.35,262.91 h-1.1 M148.35,260.46 h-1.1 M148.35,258.02 h-1.1 M148.35,255.57 h-1.8 M148.35,253.13 h-1.1 M148.35,250.68 h-1.1 M148.35,248.24 h-1.1 M148.35,245.79 h-1.1 M148.35,243.35 h-1.8" stroke="#222" stroke-width="0.7" fill="none"/>
<text x="149.25" y="323.9" font-size="4.6" font-weight="normal" text-anchor="middle" fill="#5a5a5a">0</text>
<text x="169.1" y="323.9" font-size="4.6" font-weight="normal" text-anchor="middle" fill="#5a5a5a">200</text>
<text x="188.96" y="323.9" font-size="4.6" font-weight="normal" text-anchor="middle" fill="#5a5a5a">400</text>
<text x="208.81" y="323.9" font-size="4.6" font-weight="normal" text-anchor="middle" fill="#5a5a5a">600</text>
<text x="228.67" y="323.9" font-size="4.6" font-weight="normal" text-anchor="middle" fill="#5a5a5a">800</text>
<text x="248.52" y="323.9" font-size="4.6" font-weight="normal" text-anchor="middle" fill="#5a5a5a">1000</text>
<text x="201.37" y="329.4" font-size="4.6" font-weight="normal" text-anchor="middle" fill="#5a5a5a">FL2-A</text>
<text x="0" y="0" font-size="4.6" font-weight="normal" text-anchor="middle" fill="#5a5a5a" transform="translate(145.15,316.7) rotate(-90)">0</text>
<text x="0" y="0" font-size="4.6" font-weight="normal" text-anchor="middle" fill="#5a5a5a" transform="translate(145.15,304.47) rotate(-90)">20</text>
<text x="0" y="0" font-size="4.6" font-weight="normal" text-anchor="middle" fill="#5a5a5a" transform="translate(145.15,292.25) rotate(-90)">40</text>
<text x="0" y="0" font-size="4.6" font-weight="normal" text-anchor="middle" fill="#5a5a5a" transform="translate(145.15,280.02) rotate(-90)">60</text>
<text x="0" y="0" font-size="4.6" font-weight="normal" text-anchor="middle" fill="#5a5a5a" transform="translate(145.15,267.8) rotate(-90)">80</text>
<text x="0" y="0" font-size="4.6" font-weight="normal" text-anchor="middle" fill="#5a5a5a" transform="translate(145.15,255.57) rotate(-90)">100</text>
<text x="0" y="0" font-size="4.6" font-weight="normal" text-anchor="middle" fill="#5a5a5a" transform="translate(145.15,243.35) rotate(-90)">120</text>
<text x="0" y="0" font-size="4.6" font-weight="normal" text-anchor="middle" fill="#5a5a5a" transform="translate(139.55,280.02) rotate(-90)">Counts</text>
<line x1="148.6" y1="307.4" x2="176.04" y2="307.4" stroke="#777" stroke-width="1"/>
<line x1="148.6" y1="303.5" x2="148.6" y2="311.3" stroke="#555" stroke-width="0.9"/>
<line x1="176.04" y1="303.5" x2="176.04" y2="311.3" stroke="#555" stroke-width="0.9"/>
<text x="158.04" y="302.8" font-size="4.8" font-weight="normal" text-anchor="middle" fill="#444">M1</text>
<line x1="176.04" y1="289.6" x2="189.36" y2="289.6" stroke="#777" stroke-width="1"/>
<line x1="176.04" y1="285.7" x2="176.04" y2="293.5" stroke="#555" stroke-width="0.9"/>
<line x1="189.36" y1="285.7" x2="189.36" y2="293.5" stroke="#555" stroke-width="0.9"/>
<text x="188.47" y="285" font-size="4.8" font-weight="normal" text-anchor="middle" fill="#444">M2</text>
<line x1="189.36" y1="299.9" x2="202.98" y2="299.9" stroke="#777" stroke-width="1"/>
<line x1="189.36" y1="296" x2="189.36" y2="303.8" stroke="#555" stroke-width="0.9"/>
<line x1="202.98" y1="296" x2="202.98" y2="303.8" stroke="#555" stroke-width="0.9"/>
<text x="196.02" y="295.3" font-size="4.8" font-weight="normal" text-anchor="middle" fill="#444">M3</text>
<line x1="202.98" y1="285.3" x2="224.35" y2="285.3" stroke="#777" stroke-width="1"/>
<line x1="202.98" y1="281.4" x2="202.98" y2="289.2" stroke="#555" stroke-width="0.9"/>
<line x1="224.35" y1="281.4" x2="224.35" y2="289.2" stroke="#555" stroke-width="0.9"/>
<text x="217.49" y="280.7" font-size="4.8" font-weight="normal" text-anchor="middle" fill="#444">M4</text>
<text x="324.9" y="238.7" font-size="6.7" font-weight="bold" text-anchor="middle" fill="#111" textLength="28.5" lengthAdjust="spacingAndGlyphs" stroke="#111" stroke-width="0.15">CAM 2.0</text>
<path d="M296.19,317.1 L296.19,317.1 L296.7,316.97 L297.21,316.84 L297.73,316.7 L298.24,316.57 L298.75,316.85 L299.26,316.24 L299.77,316.34 L300.28,315.78 L300.8,315.56 L301.31,316.3 L301.82,316.21 L302.33,314.63 L302.84,315.44 L303.35,315.3 L303.87,313.78 L304.38,314.42 L304.89,313.4 L305.4,313.7 L305.91,313.04 L306.42,313.62 L306.94,312.32 L307.45,310.56 L307.96,308.65 L308.47,305.44 L308.98,301.92 L309.49,298.79 L310.01,291.07 L310.52,286.3 L311.03,281.82 L311.54,277.26 L312.05,269.2 L312.56,268.63 L313.08,265.23 L313.59,264.17 L314.1,267.47 L314.61,270.17 L315.12,280.2 L315.64,286.13 L316.15,293.35 L316.66,296.82 L317.17,302.38 L317.68,306.65 L318.19,307.84 L318.71,308.94 L319.22,307.56 L319.73,308.96 L320.24,308.68 L320.75,309.59 L321.26,309.27 L321.78,309.62 L322.29,309.78 L322.8,309.32 L323.31,309.4 L323.82,308.75 L324.33,309.33 L324.85,308.85 L325.36,309.09 L325.87,308.87 L326.38,309.7 L326.89,310.95 L327.4,309.54 L327.92,309.45 L328.43,309.71 L328.94,310.56 L329.45,310.38 L329.96,311.58 L330.48,310.39 L330.99,310.86 L331.5,311.35 L332.01,311.71 L332.52,309.88 L333.03,309.46 L333.55,311.3 L334.06,309.62 L334.57,310.35 L335.08,310.81 L335.59,310.35 L336.1,309.12 L336.62,308.73 L337.13,310.45 L337.64,308.99 L338.15,310.15 L338.66,308.43 L339.17,309.18 L339.69,307.73 L340.2,307.22 L340.71,307.94 L341.22,306.31 L341.73,307.6 L342.24,307.79 L342.76,306.04 L343.27,307.11 L343.78,306.27 L344.29,305.74 L344.8,305.33 L345.31,306.67 L345.83,307.1 L346.34,305.07 L346.85,306.66 L347.36,304.63 L347.87,304.33 L348.39,305.28 L348.9,304.61 L349.41,303.99 L349.92,304.04 L350.43,305.13 L350.94,306.17 L351.46,306.97 L351.97,307.19 L352.48,309.22 L352.99,310.38 L353.5,310.76 L354.01,312.92 L354.53,314.06 L355.04,314.16 L355.55,316.25 L356.06,316.55 L356.57,316.83 L357.08,317.1 L357.08,317.1 Z" fill="#8f20ee" stroke="#1a1a1a" stroke-width="0.75" stroke-linejoin="round"/>
<line x1="274.55" y1="242.15" x2="379.9" y2="242.15" stroke="#888" stroke-width="1.1"/>
<line x1="379.9" y1="242.15" x2="379.9" y2="317.4" stroke="#888" stroke-width="1.1"/>
<line x1="274.55" y1="317.4" x2="379.9" y2="317.4" stroke="#111" stroke-width="1.2"/>
<line x1="274.55" y1="241.65" x2="274.55" y2="317.4" stroke="#111" stroke-width="1.2"/>
<path d="M275.45,317.4 v1.8 M277.98,317.4 v1.1 M280.51,317.4 v1.1 M283.04,317.4 v1.1 M285.57,317.4 v1.1 M288.1,317.4 v1.1 M290.63,317.4 v1.1 M293.16,317.4 v1.1 M295.69,317.4 v1.8 M298.22,317.4 v1.1 M300.75,317.4 v1.1 M303.28,317.4 v1.1 M305.81,317.4 v1.1 M308.34,317.4 v1.1 M310.87,317.4 v1.1 M313.4,317.4 v1.1 M315.93,317.4 v1.8 M318.46,317.4 v1.1 M321,317.4 v1.1 M323.53,317.4 v1.1 M326.06,317.4 v1.1 M328.59,317.4 v1.1 M331.12,317.4 v1.1 M333.65,317.4 v1.1 M336.18,317.4 v1.8 M338.71,317.4 v1.1 M341.24,317.4 v1.1 M343.77,317.4 v1.1 M346.3,317.4 v1.1 M348.83,317.4 v1.1 M351.36,317.4 v1.1 M353.89,317.4 v1.1 M356.42,317.4 v1.8 M358.95,317.4 v1.1 M361.48,317.4 v1.1 M364.01,317.4 v1.1 M366.54,317.4 v1.1 M369.07,317.4 v1.1 M371.6,317.4 v1.1 M374.13,317.4 v1.1 M376.66,317.4 v1.8 M379.19,317.4 v1.1 M274.55,317.1 h-1.8 M274.55,314.6 h-1.1 M274.55,312.1 h-1.1 M274.55,309.6 h-1.1 M274.55,307.11 h-1.1 M274.55,304.61 h-1.8 M274.55,302.11 h-1.1 M274.55,299.61 h-1.1 M274.55,297.11 h-1.1 M274.55,294.61 h-1.1 M274.55,292.12 h-1.8 M274.55,289.62 h-1.1 M274.55,287.12 h-1.1 M274.55,284.62 h-1.1 M274.55,282.12 h-1.1 M274.55,279.62 h-1.8 M274.55,277.13 h-1.1 M274.55,274.63 h-1.1 M274.55,272.13 h-1.1 M274.55,269.63 h-1.1 M274.55,267.13 h-1.8 M274.55,264.63 h-1.1 M274.55,262.14 h-1.1 M274.55,259.64 h-1.1 M274.55,257.14 h-1.1 M274.55,254.64 h-1.8 M274.55,252.14 h-1.1 M274.55,249.64 h-1.1 M274.55,247.15 h-1.1 M274.55,244.65 h-1.1 M274.55,242.15 h-1.8" stroke="#222" stroke-width="0.7" fill="none"/>
<text x="275.45" y="324.3" font-size="4.6" font-weight="normal" text-anchor="middle" fill="#5a5a5a">0</text>
<text x="295.69" y="324.3" font-size="4.6" font-weight="normal" text-anchor="middle" fill="#5a5a5a">200</text>
<text x="315.93" y="324.3" font-size="4.6" font-weight="normal" text-anchor="middle" fill="#5a5a5a">400</text>
<text x="336.18" y="324.3" font-size="4.6" font-weight="normal" text-anchor="middle" fill="#5a5a5a">600</text>
<text x="356.42" y="324.3" font-size="4.6" font-weight="normal" text-anchor="middle" fill="#5a5a5a">800</text>
<text x="376.66" y="324.3" font-size="4.6" font-weight="normal" text-anchor="middle" fill="#5a5a5a">1000</text>
<text x="328.59" y="329.8" font-size="4.6" font-weight="normal" text-anchor="middle" fill="#5a5a5a">FL2-A</text>
<text x="0" y="0" font-size="4.6" font-weight="normal" text-anchor="middle" fill="#5a5a5a" transform="translate(271.35,317.1) rotate(-90)">0</text>
<text x="0" y="0" font-size="4.6" font-weight="normal" text-anchor="middle" fill="#5a5a5a" transform="translate(271.35,304.61) rotate(-90)">20</text>
<text x="0" y="0" font-size="4.6" font-weight="normal" text-anchor="middle" fill="#5a5a5a" transform="translate(271.35,292.12) rotate(-90)">40</text>
<text x="0" y="0" font-size="4.6" font-weight="normal" text-anchor="middle" fill="#5a5a5a" transform="translate(271.35,279.62) rotate(-90)">60</text>
<text x="0" y="0" font-size="4.6" font-weight="normal" text-anchor="middle" fill="#5a5a5a" transform="translate(271.35,267.13) rotate(-90)">80</text>
<text x="0" y="0" font-size="4.6" font-weight="normal" text-anchor="middle" fill="#5a5a5a" transform="translate(271.35,254.64) rotate(-90)">100</text>
<text x="0" y="0" font-size="4.6" font-weight="normal" text-anchor="middle" fill="#5a5a5a" transform="translate(271.35,242.15) rotate(-90)">120</text>
<text x="0" y="0" font-size="4.6" font-weight="normal" text-anchor="middle" fill="#5a5a5a" transform="translate(265.75,279.62) rotate(-90)">Counts</text>
<line x1="274.8" y1="304.3" x2="304.48" y2="304.3" stroke="#777" stroke-width="1"/>
<line x1="274.8" y1="300.4" x2="274.8" y2="308.2" stroke="#555" stroke-width="0.9"/>
<line x1="304.48" y1="300.4" x2="304.48" y2="308.2" stroke="#555" stroke-width="0.9"/>
<text x="281.04" y="299.7" font-size="4.8" font-weight="normal" text-anchor="middle" fill="#444">M1</text>
<line x1="304.48" y1="291.3" x2="320.45" y2="291.3" stroke="#777" stroke-width="1"/>
<line x1="304.48" y1="287.4" x2="304.48" y2="295.2" stroke="#555" stroke-width="0.9"/>
<line x1="320.45" y1="287.4" x2="320.45" y2="295.2" stroke="#555" stroke-width="0.9"/>
<text x="319.22" y="286.7" font-size="4.8" font-weight="normal" text-anchor="middle" fill="#444">M2</text>
<line x1="320.45" y1="299.9" x2="332.42" y2="299.9" stroke="#777" stroke-width="1"/>
<line x1="320.45" y1="296" x2="320.45" y2="303.8" stroke="#555" stroke-width="0.9"/>
<line x1="332.42" y1="296" x2="332.42" y2="303.8" stroke="#555" stroke-width="0.9"/>
<text x="326.79" y="295.3" font-size="4.8" font-weight="normal" text-anchor="middle" fill="#444">M3</text>
<line x1="332.42" y1="284.3" x2="354.73" y2="284.3" stroke="#777" stroke-width="1"/>
<line x1="332.42" y1="280.4" x2="332.42" y2="288.2" stroke="#555" stroke-width="0.9"/>
<line x1="354.73" y1="280.4" x2="354.73" y2="288.2" stroke="#555" stroke-width="0.9"/>
<text x="348.49" y="279.7" font-size="4.8" font-weight="normal" text-anchor="middle" fill="#444">M4</text>
<text x="457.5" y="238.6" font-size="6.7" font-weight="bold" text-anchor="middle" fill="#111" textLength="45.5" lengthAdjust="spacingAndGlyphs" stroke="#111" stroke-width="0.15">CAM+PAX 2.0</text>
<path d="M422.33,316.1 L422.33,316.1 L422.84,315.69 L423.36,315.7 L423.88,315.52 L424.4,314.64 L424.92,314.75 L425.43,314.78 L425.95,314.07 L426.47,313.04 L426.99,313.11 L427.51,313.04 L428.02,313.87 L428.54,313.17 L429.06,313.53 L429.58,313.61 L430.1,313.62 L430.62,313.32 L431.13,311.89 L431.65,311.96 L432.17,311.89 L432.69,311.62 L433.21,312.27 L433.72,311.53 L434.24,310.37 L434.76,309.63 L435.28,305.61 L435.8,300.96 L436.31,299.04 L436.83,290.96 L437.35,283.9 L437.87,277.89 L438.39,274.06 L438.9,267.86 L439.42,264.64 L439.94,257.63 L440.46,257.24 L440.98,264.12 L441.49,271.3 L442.01,277.12 L442.53,287.1 L443.05,292.03 L443.57,297.78 L444.09,304.32 L444.6,306.28 L445.12,306.6 L445.64,307.79 L446.16,309.18 L446.68,309.34 L447.19,308.26 L447.71,310.01 L448.23,310.05 L448.75,308.82 L449.27,309.63 L449.78,309.11 L450.3,309.3 L450.82,309.63 L451.34,308.25 L451.86,310.08 L452.37,309.68 L452.89,310.21 L453.41,309.36 L453.93,310.2 L454.45,310.11 L454.96,309.35 L455.48,310.33 L456,309.88 L456.52,309.1 L457.04,310.75 L457.55,310.79 L458.07,310.39 L458.59,309.19 L459.11,309.46 L459.63,310.23 L460.15,309.98 L460.66,310.26 L461.18,309.57 L461.7,310.4 L462.22,308.9 L462.74,308.38 L463.25,308.18 L463.77,308.58 L464.29,308 L464.81,310.02 L465.33,309.32 L465.84,307.64 L466.36,307.89 L466.88,308.55 L467.4,307.16 L467.92,307.73 L468.43,307.11 L468.95,308.16 L469.47,308.24 L469.99,307.42 L470.51,307.71 L471.02,306.66 L471.54,304.74 L472.06,305.88 L472.58,306.27 L473.1,305.8 L473.61,305.34 L474.13,303.56 L474.65,304.55 L475.17,304.61 L475.69,305.01 L476.21,302.66 L476.72,305.02 L477.24,306.41 L477.76,307.59 L478.28,308.41 L478.8,309.09 L479.31,309.02 L479.83,311.2 L480.35,312.44 L480.87,312.58 L481.39,313.81 L481.9,313.32 L482.42,315.58 L482.94,315.78 L483.15,316.1 Z" fill="#8f20ee" stroke="#1a1a1a" stroke-width="0.75" stroke-linejoin="round"/>
<line x1="401.35" y1="241.15" x2="507.5" y2="241.15" stroke="#888" stroke-width="1.1"/>
<line x1="507.5" y1="241.15" x2="507.5" y2="316.7" stroke="#888" stroke-width="1.1"/>
<line x1="401.35" y1="316.7" x2="507.5" y2="316.7" stroke="#111" stroke-width="1.2"/>
<line x1="401.35" y1="240.65" x2="401.35" y2="316.7" stroke="#111" stroke-width="1.2"/>
<path d="M402.25,316.7 v1.8 M404.8,316.7 v1.1 M407.35,316.7 v1.1 M409.9,316.7 v1.1 M412.45,316.7 v1.1 M415,316.7 v1.1 M417.55,316.7 v1.1 M420.1,316.7 v1.1 M422.65,316.7 v1.8 M425.2,316.7 v1.1 M427.75,316.7 v1.1 M430.3,316.7 v1.1 M432.85,316.7 v1.1 M435.4,316.7 v1.1 M437.95,316.7 v1.1 M440.49,316.7 v1.1 M443.04,316.7 v1.8 M445.59,316.7 v1.1 M448.14,316.7 v1.1 M450.69,316.7 v1.1 M453.24,316.7 v1.1 M455.79,316.7 v1.1 M458.34,316.7 v1.1 M460.89,316.7 v1.1 M463.44,316.7 v1.8 M465.99,316.7 v1.1 M468.54,316.7 v1.1 M471.09,316.7 v1.1 M473.64,316.7 v1.1 M476.19,316.7 v1.1 M478.74,316.7 v1.1 M481.29,316.7 v1.1 M483.84,316.7 v1.8 M486.39,316.7 v1.1 M488.94,316.7 v1.1 M491.49,316.7 v1.1 M494.04,316.7 v1.1 M496.59,316.7 v1.1 M499.14,316.7 v1.1 M501.69,316.7 v1.1 M504.24,316.7 v1.8 M506.79,316.7 v1.1 M401.35,316.4 h-1.8 M401.35,313.89 h-1.1 M401.35,311.38 h-1.1 M401.35,308.88 h-1.1 M401.35,306.37 h-1.1 M401.35,303.86 h-1.8 M401.35,301.35 h-1.1 M401.35,298.84 h-1.1 M401.35,296.33 h-1.1 M401.35,293.82 h-1.1 M401.35,291.32 h-1.8 M401.35,288.81 h-1.1 M401.35,286.3 h-1.1 M401.35,283.79 h-1.1 M401.35,281.28 h-1.1 M401.35,278.77 h-1.8 M401.35,276.27 h-1.1 M401.35,273.76 h-1.1 M401.35,271.25 h-1.1 M401.35,268.74 h-1.1 M401.35,266.23 h-1.8 M401.35,263.72 h-1.1 M401.35,261.22 h-1.1 M401.35,258.71 h-1.1 M401.35,256.2 h-1.1 M401.35,253.69 h-1.8 M401.35,251.18 h-1.1 M401.35,248.67 h-1.1 M401.35,246.17 h-1.1 M401.35,243.66 h-1.1 M401.35,241.15 h-1.8" stroke="#222" stroke-width="0.7" fill="none"/>
<text x="402.25" y="323.6" font-size="4.6" font-weight="normal" text-anchor="middle" fill="#5a5a5a">0</text>
<text x="422.65" y="323.6" font-size="4.6" font-weight="normal" text-anchor="middle" fill="#5a5a5a">200</text>
<text x="443.04" y="323.6" font-size="4.6" font-weight="normal" text-anchor="middle" fill="#5a5a5a">400</text>
<text x="463.44" y="323.6" font-size="4.6" font-weight="normal" text-anchor="middle" fill="#5a5a5a">600</text>
<text x="483.84" y="323.6" font-size="4.6" font-weight="normal" text-anchor="middle" fill="#5a5a5a">800</text>
<text x="504.24" y="323.6" font-size="4.6" font-weight="normal" text-anchor="middle" fill="#5a5a5a">1000</text>
<text x="455.79" y="329.1" font-size="4.6" font-weight="normal" text-anchor="middle" fill="#5a5a5a">FL2-A</text>
<text x="0" y="0" font-size="4.6" font-weight="normal" text-anchor="middle" fill="#5a5a5a" transform="translate(398.15,316.4) rotate(-90)">0</text>
<text x="0" y="0" font-size="4.6" font-weight="normal" text-anchor="middle" fill="#5a5a5a" transform="translate(398.15,303.86) rotate(-90)">20</text>
<text x="0" y="0" font-size="4.6" font-weight="normal" text-anchor="middle" fill="#5a5a5a" transform="translate(398.15,291.32) rotate(-90)">40</text>
<text x="0" y="0" font-size="4.6" font-weight="normal" text-anchor="middle" fill="#5a5a5a" transform="translate(398.15,278.77) rotate(-90)">60</text>
<text x="0" y="0" font-size="4.6" font-weight="normal" text-anchor="middle" fill="#5a5a5a" transform="translate(398.15,266.23) rotate(-90)">80</text>
<text x="0" y="0" font-size="4.6" font-weight="normal" text-anchor="middle" fill="#5a5a5a" transform="translate(398.15,253.69) rotate(-90)">100</text>
<text x="0" y="0" font-size="4.6" font-weight="normal" text-anchor="middle" fill="#5a5a5a" transform="translate(398.15,241.15) rotate(-90)">120</text>
<text x="0" y="0" font-size="4.6" font-weight="normal" text-anchor="middle" fill="#5a5a5a" transform="translate(392.55,278.77) rotate(-90)">Counts</text>
<line x1="401.5" y1="303.8" x2="431.65" y2="303.8" stroke="#777" stroke-width="1"/>
<line x1="401.5" y1="299.9" x2="401.5" y2="307.7" stroke="#555" stroke-width="0.9"/>
<line x1="431.65" y1="299.9" x2="431.65" y2="307.7" stroke="#555" stroke-width="0.9"/>
<text x="408.55" y="299.2" font-size="4.8" font-weight="normal" text-anchor="middle" fill="#444">M1</text>
<line x1="431.65" y1="291.3" x2="449.27" y2="291.3" stroke="#777" stroke-width="1"/>
<line x1="431.65" y1="287.4" x2="431.65" y2="295.2" stroke="#555" stroke-width="0.9"/>
<line x1="449.27" y1="287.4" x2="449.27" y2="295.2" stroke="#555" stroke-width="0.9"/>
<text x="447.4" y="286.7" font-size="4.8" font-weight="normal" text-anchor="middle" fill="#444">M2</text>
<line x1="449.27" y1="300.2" x2="461.28" y2="300.2" stroke="#777" stroke-width="1"/>
<line x1="449.27" y1="296.3" x2="449.27" y2="304.1" stroke="#555" stroke-width="0.9"/>
<line x1="461.28" y1="296.3" x2="461.28" y2="304.1" stroke="#555" stroke-width="0.9"/>
<text x="455.59" y="295.6" font-size="4.8" font-weight="normal" text-anchor="middle" fill="#444">M3</text>
<line x1="461.28" y1="283.5" x2="483.56" y2="283.5" stroke="#777" stroke-width="1"/>
<line x1="461.28" y1="279.6" x2="461.28" y2="287.4" stroke="#555" stroke-width="0.9"/>
<line x1="483.56" y1="279.6" x2="483.56" y2="287.4" stroke="#555" stroke-width="0.9"/>
<text x="477.24" y="278.9" font-size="4.8" font-weight="normal" text-anchor="middle" fill="#444">M4</text>
<text x="195.9" y="354.1" font-size="6.7" font-weight="bold" text-anchor="middle" fill="#111" textLength="25.1" lengthAdjust="spacingAndGlyphs" stroke="#111" stroke-width="0.15">PAX 4.0</text>
<path d="M170.08,431.7 L170.08,431.7 L170.59,430.6 L171.1,429.49 L171.61,428.48 L172.12,427.28 L172.63,426.86 L173.14,426.24 L173.65,427.75 L174.16,426.62 L174.67,425.38 L175.18,425.72 L175.68,424.95 L176.19,426.47 L176.7,425.59 L177.21,425.94 L177.72,425.17 L178.23,424.98 L178.74,426.06 L179.25,423.82 L179.76,421.86 L180.27,418.32 L180.78,416.83 L181.29,416.11 L181.8,410.33 L182.3,409.14 L182.81,404 L183.32,403.52 L183.83,401.46 L184.34,396.41 L184.85,400.1 L185.36,400.87 L185.87,399.44 L186.38,403.67 L186.89,409.67 L187.4,410.73 L187.91,414.8 L188.42,417.02 L188.93,420.46 L189.43,418.65 L189.94,419.5 L190.45,418.95 L190.96,419.33 L191.47,420.9 L191.98,420.63 L192.49,421.04 L193,420.99 L193.51,421.11 L194.02,420.37 L194.53,419.45 L195.04,420.97 L195.55,419.54 L196.06,420.83 L196.56,421.29 L197.07,420.38 L197.58,421.64 L198.09,422.44 L198.6,422.42 L199.11,422.22 L199.62,423.88 L200.13,421.79 L200.64,424.16 L201.15,422.55 L201.66,422.44 L202.17,424.48 L202.68,422.79 L203.19,423.81 L203.69,423.32 L204.2,424.64 L204.71,424.55 L205.22,424.24 L205.73,422.44 L206.24,424.21 L206.75,422.91 L207.26,422.19 L207.77,421.84 L208.28,422.96 L208.79,422.64 L209.3,421.92 L209.81,420.98 L210.32,422.36 L210.82,420.44 L211.33,420.07 L211.84,419.66 L212.35,421.58 L212.86,418.93 L213.37,420.98 L213.88,420.07 L214.39,419.1 L214.9,418.19 L215.41,419.81 L215.92,418.26 L216.43,419.33 L216.94,420.01 L217.45,420.04 L217.95,420.46 L218.46,420.76 L218.97,421.41 L219.48,420.88 L219.99,421.01 L220.5,423.89 L221.01,424.99 L221.52,423.76 L222.03,425.18 L222.54,425.77 L223.05,426.43 L223.56,426 L224.07,425.85 L224.57,426.91 L225.08,427.28 L225.59,428.3 L226.1,426.98 L226.61,428.96 L227.12,428.43 L227.63,428.13 L228.14,429.72 L228.65,429 L229.16,429.04 L229.67,429.98 L230.18,430.13 L230.69,431.61 L231.2,431.38 L231.6,431.7 Z" fill="#8f20ee" stroke="#1a1a1a" stroke-width="0.75" stroke-linejoin="round"/>
<line x1="184.65" y1="400.41" x2="184.65" y2="391.65" stroke="#333" stroke-width="0.8"/>
<line x1="149.35" y1="357.2" x2="253.4" y2="357.2" stroke="#888" stroke-width="1.1"/>
<line x1="253.4" y1="357.2" x2="253.4" y2="431.4" stroke="#888" stroke-width="1.1"/>
<line x1="149.35" y1="431.4" x2="253.4" y2="431.4" stroke="#111" stroke-width="1.2"/>
<line x1="149.35" y1="356.7" x2="149.35" y2="431.4" stroke="#111" stroke-width="1.2"/>
<path d="M150.25,431.4 v1.8 M152.75,431.4 v1.1 M155.25,431.4 v1.1 M157.75,431.4 v1.1 M160.25,431.4 v1.1 M162.74,431.4 v1.1 M165.24,431.4 v1.1 M167.74,431.4 v1.1 M170.24,431.4 v1.8 M172.74,431.4 v1.1 M175.24,431.4 v1.1 M177.74,431.4 v1.1 M180.24,431.4 v1.1 M182.73,431.4 v1.1 M185.23,431.4 v1.1 M187.73,431.4 v1.1 M190.23,431.4 v1.8 M192.73,431.4 v1.1 M195.23,431.4 v1.1 M197.73,431.4 v1.1 M200.23,431.4 v1.1 M202.72,431.4 v1.1 M205.22,431.4 v1.1 M207.72,431.4 v1.1 M210.22,431.4 v1.8 M212.72,431.4 v1.1 M215.22,431.4 v1.1 M217.72,431.4 v1.1 M220.22,431.4 v1.1 M222.71,431.4 v1.1 M225.21,431.4 v1.1 M227.71,431.4 v1.1 M230.21,431.4 v1.8 M232.71,431.4 v1.1 M235.21,431.4 v1.1 M237.71,431.4 v1.1 M240.21,431.4 v1.1 M242.71,431.4 v1.1 M245.2,431.4 v1.1 M247.7,431.4 v1.1 M250.2,431.4 v1.8 M252.7,431.4 v1.1 M149.35,431.1 h-1.8 M149.35,428.64 h-1.1 M149.35,426.17 h-1.1 M149.35,423.71 h-1.1 M149.35,421.25 h-1.1 M149.35,418.78 h-1.8 M149.35,416.32 h-1.1 M149.35,413.86 h-1.1 M149.35,411.39 h-1.1 M149.35,408.93 h-1.1 M149.35,406.47 h-1.8 M149.35,404 h-1.1 M149.35,401.54 h-1.1 M149.35,399.08 h-1.1 M149.35,396.61 h-1.1 M149.35,394.15 h-1.8 M149.35,391.69 h-1.1 M149.35,389.22 h-1.1 M149.35,386.76 h-1.1 M149.35,384.3 h-1.1 M149.35,381.83 h-1.8 M149.35,379.37 h-1.1 M149.35,376.91 h-1.1 M149.35,374.44 h-1.1 M149.35,371.98 h-1.1 M149.35,369.52 h-1.8 M149.35,367.05 h-1.1 M149.35,364.59 h-1.1 M149.35,362.13 h-1.1 M149.35,359.66 h-1.1 M149.35,357.2 h-1.8" stroke="#222" stroke-width="0.7" fill="none"/>
<text x="150.25" y="438.3" font-size="4.6" font-weight="normal" text-anchor="middle" fill="#5a5a5a">0</text>
<text x="170.24" y="438.3" font-size="4.6" font-weight="normal" text-anchor="middle" fill="#5a5a5a">200</text>
<text x="190.23" y="438.3" font-size="4.6" font-weight="normal" text-anchor="middle" fill="#5a5a5a">400</text>
<text x="210.22" y="438.3" font-size="4.6" font-weight="normal" text-anchor="middle" fill="#5a5a5a">600</text>
<text x="230.21" y="438.3" font-size="4.6" font-weight="normal" text-anchor="middle" fill="#5a5a5a">800</text>
<text x="250.2" y="438.3" font-size="4.6" font-weight="normal" text-anchor="middle" fill="#5a5a5a">1000</text>
<text x="202.72" y="443.8" font-size="4.6" font-weight="normal" text-anchor="middle" fill="#5a5a5a">FL2-A</text>
<text x="0" y="0" font-size="4.6" font-weight="normal" text-anchor="middle" fill="#5a5a5a" transform="translate(146.15,431.1) rotate(-90)">0</text>
<text x="0" y="0" font-size="4.6" font-weight="normal" text-anchor="middle" fill="#5a5a5a" transform="translate(146.15,418.78) rotate(-90)">20</text>
<text x="0" y="0" font-size="4.6" font-weight="normal" text-anchor="middle" fill="#5a5a5a" transform="translate(146.15,406.47) rotate(-90)">40</text>
<text x="0" y="0" font-size="4.6" font-weight="normal" text-anchor="middle" fill="#5a5a5a" transform="translate(146.15,394.15) rotate(-90)">60</text>
<text x="0" y="0" font-size="4.6" font-weight="normal" text-anchor="middle" fill="#5a5a5a" transform="translate(146.15,381.83) rotate(-90)">80</text>
<text x="0" y="0" font-size="4.6" font-weight="normal" text-anchor="middle" fill="#5a5a5a" transform="translate(146.15,369.52) rotate(-90)">100</text>
<text x="0" y="0" font-size="4.6" font-weight="normal" text-anchor="middle" fill="#5a5a5a" transform="translate(146.15,357.2) rotate(-90)">120</text>
<text x="0" y="0" font-size="4.6" font-weight="normal" text-anchor="middle" fill="#5a5a5a" transform="translate(140.55,394.15) rotate(-90)">Counts</text>
<line x1="149.1" y1="421.9" x2="176.8" y2="421.9" stroke="#777" stroke-width="1"/>
<line x1="149.1" y1="418" x2="149.1" y2="425.8" stroke="#555" stroke-width="0.9"/>
<line x1="176.8" y1="418" x2="176.8" y2="425.8" stroke="#555" stroke-width="0.9"/>
<text x="158.27" y="417.3" font-size="4.8" font-weight="normal" text-anchor="middle" fill="#444">M1</text>
<line x1="176.8" y1="403.2" x2="190.35" y2="403.2" stroke="#777" stroke-width="1"/>
<line x1="176.8" y1="399.3" x2="176.8" y2="407.1" stroke="#555" stroke-width="0.9"/>
<line x1="190.35" y1="399.3" x2="190.35" y2="407.1" stroke="#555" stroke-width="0.9"/>
<text x="189.74" y="398.6" font-size="4.8" font-weight="normal" text-anchor="middle" fill="#444">M2</text>
<line x1="190.35" y1="414.6" x2="204.1" y2="414.6" stroke="#777" stroke-width="1"/>
<line x1="190.35" y1="410.7" x2="190.35" y2="418.5" stroke="#555" stroke-width="0.9"/>
<line x1="204.1" y1="410.7" x2="204.1" y2="418.5" stroke="#555" stroke-width="0.9"/>
<text x="196.77" y="410" font-size="4.8" font-weight="normal" text-anchor="middle" fill="#444">M3</text>
<line x1="204.1" y1="399.3" x2="225.8" y2="399.3" stroke="#777" stroke-width="1"/>
<line x1="204.1" y1="395.4" x2="204.1" y2="403.2" stroke="#555" stroke-width="0.9"/>
<line x1="225.8" y1="395.4" x2="225.8" y2="403.2" stroke="#555" stroke-width="0.9"/>
<text x="218.97" y="394.7" font-size="4.8" font-weight="normal" text-anchor="middle" fill="#444">M4</text>
<text x="326.35" y="354.1" font-size="6.7" font-weight="bold" text-anchor="middle" fill="#111" textLength="27.8" lengthAdjust="spacingAndGlyphs" stroke="#111" stroke-width="0.15">CAM 4.0</text>
<path d="M297.1,432.2 L297.1,432.2 L297.62,431.86 L298.13,431.05 L298.64,430.65 L299.15,430.85 L299.66,430.89 L300.18,431 L300.69,429.52 L301.2,429.75 L301.71,429.14 L302.23,429.72 L302.74,428.91 L303.25,429.7 L303.76,428.64 L304.27,428.66 L304.79,429.14 L305.3,428.58 L305.81,427.62 L306.32,427.9 L306.83,426.5 L307.35,425.28 L307.86,425.27 L308.37,420.73 L308.88,417.75 L309.4,413.96 L309.91,410.93 L310.42,406.29 L310.93,397.45 L311.44,391.62 L311.96,387.25 L312.47,382.85 L312.98,376.43 L313.49,369.99 L314.01,367.98 L314.52,361.52 L315.03,365.72 L315.54,371.56 L316.05,375.99 L316.57,387.21 L317.08,394.46 L317.59,404.35 L318.1,414.43 L318.62,417.55 L319.13,420.95 L319.64,422.93 L320.15,422.78 L320.66,425.23 L321.18,424.7 L321.69,424.39 L322.2,425.29 L322.71,424.79 L323.23,426.04 L323.74,424.43 L324.25,425.35 L324.76,426.38 L325.27,425.33 L325.79,426.23 L326.3,426.61 L326.81,426.14 L327.32,427.01 L327.84,426.82 L328.35,425.34 L328.86,425.61 L329.37,427 L329.88,425.27 L330.4,426.83 L330.91,426.07 L331.42,424.74 L331.93,425.27 L332.45,425.88 L332.96,425.64 L333.47,425.53 L333.98,426.03 L334.49,424 L335.01,426.03 L335.52,425.12 L336.03,424.31 L336.54,425.01 L337.06,423.6 L337.57,425.18 L338.08,423.43 L338.59,423.47 L339.1,423.8 L339.62,423.12 L340.13,423.98 L340.64,422.91 L341.15,422.81 L341.66,423.31 L342.18,423.25 L342.69,422.51 L343.2,423.06 L343.71,423.69 L344.23,421.87 L344.74,422.89 L345.25,422.16 L345.76,421.22 L346.27,422.6 L346.79,422.82 L347.3,422.47 L347.81,421.31 L348.32,421.94 L348.84,422.26 L349.35,421.8 L349.86,420.62 L350.37,422.39 L350.88,422.22 L351.4,421.54 L351.91,422.7 L352.42,424.14 L352.93,424.75 L353.45,425.84 L353.96,427.63 L354.47,428.19 L354.98,429.13 L355.49,429.04 L356.01,430.7 L356.52,430.96 L357.03,432.04 L357.13,432.2 Z" fill="#8f20ee" stroke="#1a1a1a" stroke-width="0.75" stroke-linejoin="round"/>
<line x1="276" y1="356.7" x2="381.6" y2="356.7" stroke="#888" stroke-width="1.1"/>
<line x1="381.6" y1="356.7" x2="381.6" y2="432.2" stroke="#888" stroke-width="1.1"/>
<line x1="276" y1="432.2" x2="381.6" y2="432.2" stroke="#111" stroke-width="1.2"/>
<line x1="276" y1="356.2" x2="276" y2="432.2" stroke="#111" stroke-width="1.2"/>
<path d="M276.9,432.2 v1.8 M279.44,432.2 v1.1 M281.97,432.2 v1.1 M284.51,432.2 v1.1 M287.05,432.2 v1.1 M289.58,432.2 v1.1 M292.12,432.2 v1.1 M294.65,432.2 v1.1 M297.19,432.2 v1.8 M299.73,432.2 v1.1 M302.26,432.2 v1.1 M304.8,432.2 v1.1 M307.34,432.2 v1.1 M309.87,432.2 v1.1 M312.41,432.2 v1.1 M314.95,432.2 v1.1 M317.48,432.2 v1.8 M320.02,432.2 v1.1 M322.55,432.2 v1.1 M325.09,432.2 v1.1 M327.63,432.2 v1.1 M330.16,432.2 v1.1 M332.7,432.2 v1.1 M335.24,432.2 v1.1 M337.77,432.2 v1.8 M340.31,432.2 v1.1 M342.84,432.2 v1.1 M345.38,432.2 v1.1 M347.92,432.2 v1.1 M350.45,432.2 v1.1 M352.99,432.2 v1.1 M355.53,432.2 v1.1 M358.06,432.2 v1.8 M360.6,432.2 v1.1 M363.14,432.2 v1.1 M365.67,432.2 v1.1 M368.21,432.2 v1.1 M370.74,432.2 v1.1 M373.28,432.2 v1.1 M375.82,432.2 v1.1 M378.35,432.2 v1.8 M380.89,432.2 v1.1 M276,431.9 h-1.8 M276,429.39 h-1.1 M276,426.89 h-1.1 M276,424.38 h-1.1 M276,421.87 h-1.1 M276,419.37 h-1.8 M276,416.86 h-1.1 M276,414.35 h-1.1 M276,411.85 h-1.1 M276,409.34 h-1.1 M276,406.83 h-1.8 M276,404.33 h-1.1 M276,401.82 h-1.1 M276,399.31 h-1.1 M276,396.81 h-1.1 M276,394.3 h-1.8 M276,391.79 h-1.1 M276,389.29 h-1.1 M276,386.78 h-1.1 M276,384.27 h-1.1 M276,381.77 h-1.8 M276,379.26 h-1.1 M276,376.75 h-1.1 M276,374.25 h-1.1 M276,371.74 h-1.1 M276,369.23 h-1.8 M276,366.73 h-1.1 M276,364.22 h-1.1 M276,361.71 h-1.1 M276,359.21 h-1.1 M276,356.7 h-1.8" stroke="#222" stroke-width="0.7" fill="none"/>
<text x="276.9" y="439.1" font-size="4.6" font-weight="normal" text-anchor="middle" fill="#5a5a5a">0</text>
<text x="297.19" y="439.1" font-size="4.6" font-weight="normal" text-anchor="middle" fill="#5a5a5a">200</text>
<text x="317.48" y="439.1" font-size="4.6" font-weight="normal" text-anchor="middle" fill="#5a5a5a">400</text>
<text x="337.77" y="439.1" font-size="4.6" font-weight="normal" text-anchor="middle" fill="#5a5a5a">600</text>
<text x="358.06" y="439.1" font-size="4.6" font-weight="normal" text-anchor="middle" fill="#5a5a5a">800</text>
<text x="378.35" y="439.1" font-size="4.6" font-weight="normal" text-anchor="middle" fill="#5a5a5a">1000</text>
<text x="330.16" y="444.6" font-size="4.6" font-weight="normal" text-anchor="middle" fill="#5a5a5a">FL2-A</text>
<text x="0" y="0" font-size="4.6" font-weight="normal" text-anchor="middle" fill="#5a5a5a" transform="translate(272.8,431.9) rotate(-90)">0</text>
<text x="0" y="0" font-size="4.6" font-weight="normal" text-anchor="middle" fill="#5a5a5a" transform="translate(272.8,419.37) rotate(-90)">20</text>
<text x="0" y="0" font-size="4.6" font-weight="normal" text-anchor="middle" fill="#5a5a5a" transform="translate(272.8,406.83) rotate(-90)">40</text>
<text x="0" y="0" font-size="4.6" font-weight="normal" text-anchor="middle" fill="#5a5a5a" transform="translate(272.8,394.3) rotate(-90)">60</text>
<text x="0" y="0" font-size="4.6" font-weight="normal" text-anchor="middle" fill="#5a5a5a" transform="translate(272.8,381.77) rotate(-90)">80</text>
<text x="0" y="0" font-size="4.6" font-weight="normal" text-anchor="middle" fill="#5a5a5a" transform="translate(272.8,369.23) rotate(-90)">100</text>
<text x="0" y="0" font-size="4.6" font-weight="normal" text-anchor="middle" fill="#5a5a5a" transform="translate(272.8,356.7) rotate(-90)">120</text>
<text x="0" y="0" font-size="4.6" font-weight="normal" text-anchor="middle" fill="#5a5a5a" transform="translate(267.2,394.3) rotate(-90)">Counts</text>
<line x1="276" y1="418.3" x2="306.02" y2="418.3" stroke="#777" stroke-width="1"/>
<line x1="276" y1="414.4" x2="276" y2="422.2" stroke="#555" stroke-width="0.9"/>
<line x1="306.02" y1="414.4" x2="306.02" y2="422.2" stroke="#555" stroke-width="0.9"/>
<text x="282.97" y="413.7" font-size="4.8" font-weight="normal" text-anchor="middle" fill="#444">M1</text>
<line x1="306.02" y1="406.3" x2="321.59" y2="406.3" stroke="#777" stroke-width="1"/>
<line x1="306.02" y1="402.4" x2="306.02" y2="410.2" stroke="#555" stroke-width="0.9"/>
<line x1="321.59" y1="402.4" x2="321.59" y2="410.2" stroke="#555" stroke-width="0.9"/>
<text x="319.84" y="401.7" font-size="4.8" font-weight="normal" text-anchor="middle" fill="#444">M2</text>
<line x1="321.59" y1="414.7" x2="333.37" y2="414.7" stroke="#777" stroke-width="1"/>
<line x1="321.59" y1="410.8" x2="321.59" y2="418.6" stroke="#555" stroke-width="0.9"/>
<line x1="333.37" y1="410.8" x2="333.37" y2="418.6" stroke="#555" stroke-width="0.9"/>
<text x="327.84" y="410.1" font-size="4.8" font-weight="normal" text-anchor="middle" fill="#444">M3</text>
<line x1="333.37" y1="398.7" x2="356.01" y2="398.7" stroke="#777" stroke-width="1"/>
<line x1="333.37" y1="394.8" x2="333.37" y2="402.6" stroke="#555" stroke-width="0.9"/>
<line x1="356.01" y1="394.8" x2="356.01" y2="402.6" stroke="#555" stroke-width="0.9"/>
<text x="349.04" y="394.1" font-size="4.8" font-weight="normal" text-anchor="middle" fill="#444">M4</text>
<text x="457.5" y="353.6" font-size="6.7" font-weight="bold" text-anchor="middle" fill="#111" textLength="45.5" lengthAdjust="spacingAndGlyphs" stroke="#111" stroke-width="0.15">CAM+PAX 4.0</text>
<path d="M422.26,432.7 L422.26,432.7 L422.79,432.32 L423.31,431.96 L423.84,430.47 L424.36,430.82 L424.89,429.34 L425.42,429.01 L425.94,429.26 L426.47,428.12 L426.99,428.78 L427.52,427.73 L428.05,428.2 L428.57,427.9 L429.1,426.87 L429.62,425.66 L430.15,426.84 L430.68,426.28 L431.2,425.04 L431.73,423.96 L432.25,423.6 L432.78,422.84 L433.3,420.12 L433.83,421.43 L434.36,417.95 L434.88,417.98 L435.41,415.14 L435.93,411.97 L436.46,407.92 L436.99,402.36 L437.51,402.5 L438.04,398.58 L438.56,396.16 L439.09,395.17 L439.62,395.05 L440.14,397.84 L440.67,401.11 L441.19,405.46 L441.72,408.48 L442.24,413.15 L442.77,416.89 L443.3,419.48 L443.82,421.36 L444.35,422.79 L444.87,422.6 L445.4,423.89 L445.93,425.56 L446.45,424.81 L446.98,424.92 L447.5,424.13 L448.03,424.46 L448.55,425.46 L449.08,423.89 L449.61,425.85 L450.13,425.09 L450.66,424.24 L451.18,425.55 L451.71,424.69 L452.24,425.66 L452.76,424.12 L453.29,423.82 L453.81,424.18 L454.34,423.43 L454.87,424.82 L455.39,424.01 L455.92,424.32 L456.44,424.43 L456.97,424.79 L457.49,423.99 L458.02,423.82 L458.55,424.98 L459.07,424.58 L459.6,425.84 L460.12,424.25 L460.65,424.25 L461.18,423.32 L461.7,423.6 L462.23,424.74 L462.75,424.38 L463.28,423.59 L463.81,425 L464.33,423.81 L464.86,424.38 L465.38,424.37 L465.91,424.38 L466.43,422.5 L466.96,423.94 L467.49,423.51 L468.01,423.02 L468.54,421.65 L469.06,423.47 L469.59,422.36 L470.12,421.93 L470.64,420.88 L471.17,420.87 L471.69,420.56 L472.22,421.93 L472.75,421.39 L473.27,421.63 L473.8,420.52 L474.32,420.61 L474.85,422.96 L475.37,423.16 L475.9,423.28 L476.43,423.84 L476.95,423.88 L477.48,424.3 L478,425.7 L478.53,426.91 L479.06,426.65 L479.58,427.98 L480.11,428.98 L480.63,429.7 L481.16,431.57 L481.47,432.7 Z" fill="#8f20ee" stroke="#1a1a1a" stroke-width="0.75" stroke-linejoin="round"/>
<line x1="440.67" y1="398.19" x2="440.67" y2="387.52" stroke="#333" stroke-width="0.8"/>
<line x1="401.3" y1="356.5" x2="508.6" y2="356.5" stroke="#888" stroke-width="1.1"/>
<line x1="508.6" y1="356.5" x2="508.6" y2="433" stroke="#888" stroke-width="1.1"/>
<line x1="401.3" y1="433" x2="508.6" y2="433" stroke="#111" stroke-width="1.2"/>
<line x1="401.3" y1="356" x2="401.3" y2="433" stroke="#111" stroke-width="1.2"/>
<path d="M402.2,433 v1.8 M404.78,433 v1.1 M407.36,433 v1.1 M409.93,433 v1.1 M412.51,433 v1.1 M415.09,433 v1.1 M417.67,433 v1.1 M420.24,433 v1.1 M422.82,433 v1.8 M425.4,433 v1.1 M427.98,433 v1.1 M430.55,433 v1.1 M433.13,433 v1.1 M435.71,433 v1.1 M438.29,433 v1.1 M440.86,433 v1.1 M443.44,433 v1.8 M446.02,433 v1.1 M448.6,433 v1.1 M451.17,433 v1.1 M453.75,433 v1.1 M456.33,433 v1.1 M458.91,433 v1.1 M461.48,433 v1.1 M464.06,433 v1.8 M466.64,433 v1.1 M469.22,433 v1.1 M471.79,433 v1.1 M474.37,433 v1.1 M476.95,433 v1.1 M479.53,433 v1.1 M482.1,433 v1.1 M484.68,433 v1.8 M487.26,433 v1.1 M489.84,433 v1.1 M492.41,433 v1.1 M494.99,433 v1.1 M497.57,433 v1.1 M500.15,433 v1.1 M502.72,433 v1.1 M505.3,433 v1.8 M507.88,433 v1.1 M401.3,432.7 h-1.8 M401.3,430.16 h-1.1 M401.3,427.62 h-1.1 M401.3,425.08 h-1.1 M401.3,422.54 h-1.1 M401.3,420 h-1.8 M401.3,417.46 h-1.1 M401.3,414.92 h-1.1 M401.3,412.38 h-1.1 M401.3,409.84 h-1.1 M401.3,407.3 h-1.8 M401.3,404.76 h-1.1 M401.3,402.22 h-1.1 M401.3,399.68 h-1.1 M401.3,397.14 h-1.1 M401.3,394.6 h-1.8 M401.3,392.06 h-1.1 M401.3,389.52 h-1.1 M401.3,386.98 h-1.1 M401.3,384.44 h-1.1 M401.3,381.9 h-1.8 M401.3,379.36 h-1.1 M401.3,376.82 h-1.1 M401.3,374.28 h-1.1 M401.3,371.74 h-1.1 M401.3,369.2 h-1.8 M401.3,366.66 h-1.1 M401.3,364.12 h-1.1 M401.3,361.58 h-1.1 M401.3,359.04 h-1.1 M401.3,356.5 h-1.8" stroke="#222" stroke-width="0.7" fill="none"/>
<text x="402.2" y="439.9" font-size="4.6" font-weight="normal" text-anchor="middle" fill="#5a5a5a">0</text>
<text x="422.82" y="439.9" font-size="4.6" font-weight="normal" text-anchor="middle" fill="#5a5a5a">200</text>
<text x="443.44" y="439.9" font-size="4.6" font-weight="normal" text-anchor="middle" fill="#5a5a5a">400</text>
<text x="464.06" y="439.9" font-size="4.6" font-weight="normal" text-anchor="middle" fill="#5a5a5a">600</text>
<text x="484.68" y="439.9" font-size="4.6" font-weight="normal" text-anchor="middle" fill="#5a5a5a">800</text>
<text x="505.3" y="439.9" font-size="4.6" font-weight="normal" text-anchor="middle" fill="#5a5a5a">1000</text>
<text x="456.33" y="445.4" font-size="4.6" font-weight="normal" text-anchor="middle" fill="#5a5a5a">FL2-A</text>
<text x="0" y="0" font-size="4.6" font-weight="normal" text-anchor="middle" fill="#5a5a5a" transform="translate(398.1,432.7) rotate(-90)">0</text>
<text x="0" y="0" font-size="4.6" font-weight="normal" text-anchor="middle" fill="#5a5a5a" transform="translate(398.1,420) rotate(-90)">20</text>
<text x="0" y="0" font-size="4.6" font-weight="normal" text-anchor="middle" fill="#5a5a5a" transform="translate(398.1,407.3) rotate(-90)">40</text>
<text x="0" y="0" font-size="4.6" font-weight="normal" text-anchor="middle" fill="#5a5a5a" transform="translate(398.1,394.6) rotate(-90)">60</text>
<text x="0" y="0" font-size="4.6" font-weight="normal" text-anchor="middle" fill="#5a5a5a" transform="translate(398.1,381.9) rotate(-90)">80</text>
<text x="0" y="0" font-size="4.6" font-weight="normal" text-anchor="middle" fill="#5a5a5a" transform="translate(398.1,369.2) rotate(-90)">100</text>
<text x="0" y="0" font-size="4.6" font-weight="normal" text-anchor="middle" fill="#5a5a5a" transform="translate(398.1,356.5) rotate(-90)">120</text>
<text x="0" y="0" font-size="4.6" font-weight="normal" text-anchor="middle" fill="#5a5a5a" transform="translate(392.5,394.6) rotate(-90)">Counts</text>
<line x1="400.7" y1="419.6" x2="432.15" y2="419.6" stroke="#777" stroke-width="1"/>
<line x1="400.7" y1="415.7" x2="400.7" y2="423.5" stroke="#555" stroke-width="0.9"/>
<line x1="432.15" y1="415.7" x2="432.15" y2="423.5" stroke="#555" stroke-width="0.9"/>
<text x="408.48" y="415" font-size="4.8" font-weight="normal" text-anchor="middle" fill="#444">M1</text>
<line x1="432.15" y1="407.1" x2="448.13" y2="407.1" stroke="#777" stroke-width="1"/>
<line x1="432.15" y1="403.2" x2="432.15" y2="411" stroke="#555" stroke-width="0.9"/>
<line x1="448.13" y1="403.2" x2="448.13" y2="411" stroke="#555" stroke-width="0.9"/>
<text x="446.03" y="402.5" font-size="4.8" font-weight="normal" text-anchor="middle" fill="#444">M2</text>
<line x1="448.13" y1="416.5" x2="459.81" y2="416.5" stroke="#777" stroke-width="1"/>
<line x1="448.13" y1="412.6" x2="448.13" y2="420.4" stroke="#555" stroke-width="0.9"/>
<line x1="459.81" y1="412.6" x2="459.81" y2="420.4" stroke="#555" stroke-width="0.9"/>
<text x="454.34" y="411.9" font-size="4.8" font-weight="normal" text-anchor="middle" fill="#444">M3</text>
<line x1="459.81" y1="400.1" x2="482.42" y2="400.1" stroke="#777" stroke-width="1"/>
<line x1="459.81" y1="396.2" x2="459.81" y2="404" stroke="#555" stroke-width="0.9"/>
<line x1="482.42" y1="396.2" x2="482.42" y2="404" stroke="#555" stroke-width="0.9"/>
<text x="475.9" y="395.5" font-size="4.8" font-weight="normal" text-anchor="middle" fill="#444">M4</text>
</svg>
</body></html>
